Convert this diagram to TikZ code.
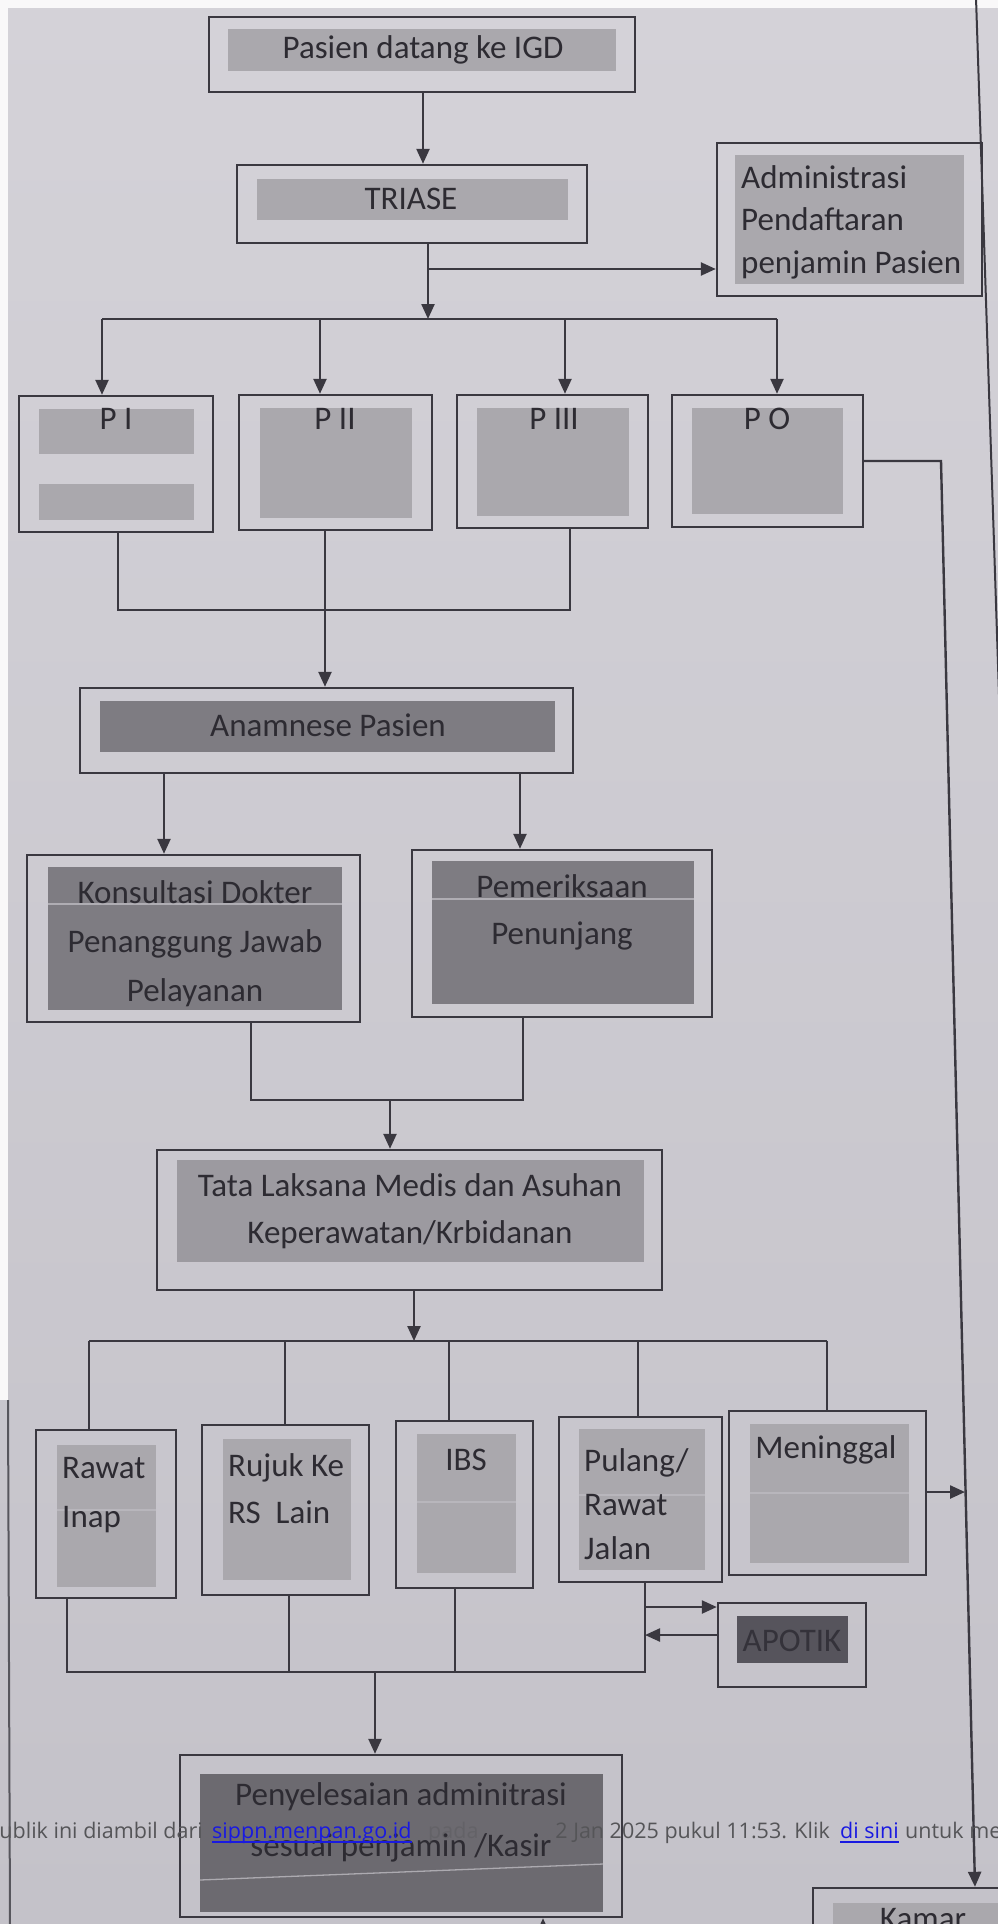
\documentclass[tikz,border=0pt]{standalone}
\usepackage{fontspec}
\setmainfont{Carlito}
\newfontfamily\osans{Open Sans}
\usetikzlibrary{arrows.meta,calc}
\definecolor{bgA}{RGB}{212,210,216}
\definecolor{bgB}{RGB}{196,194,201}
\definecolor{lc}{RGB}{58,56,64}
\definecolor{tc}{RGB}{45,43,50}
\definecolor{gl}{RGB}{170,168,173}
\definecolor{gm}{RGB}{156,154,160}
\definecolor{gd}{RGB}{126,124,130}
\definecolor{gx}{RGB}{108,106,112}
\definecolor{ga}{RGB}{86,84,92}
\definecolor{lnk}{RGB}{25,25,225}
\definecolor{ovl}{RGB}{85,85,88}
\definecolor{strp}{RGB}{188,186,192}
\begin{document}
\begin{tikzpicture}[x=1pt,y=-1pt,
  obox/.style={draw=lc,line width=2.4pt,inner sep=0pt},
  ibox/.style={inner sep=0pt,draw=none},
  txt/.style={text=tc,font=\fontsize{33}{46}\selectfont,inner sep=0pt,align=center},
  link/.style={draw=lc,line width=2.4pt},
  arr/.style={draw=lc,line width=2.4pt,-{Triangle[length=15pt,width=13pt]}},
  ov/.style={font=\osans\fontsize{21.5}{26}\selectfont,inner sep=0pt,text=ovl},
  stripe/.style={draw=strp,line width=1.3pt,opacity=0.8}
]
\useasboundingbox (0,0) rectangle (998,1924);
\clip (0,0) rectangle (998,1924);
\shade[top color=bgA,bottom color=bgB] (0,0) rectangle (998,1924);
\fill[white!85!bgA] (0,0) rectangle (998,8);
\fill[white!85!bgA] (0,0) rectangle (8,1400);
\draw[lc!85,line width=2pt] (8,1400) -- (10,1924);

% inner fills
\node[ibox,fill=gl,minimum width=388,minimum height=42] (pasI) at (422,50) {};
\node[ibox,fill=gl,minimum width=311,minimum height=41] (triI) at (412.5,199.5) {};
\node[ibox,fill=gl,minimum width=229,minimum height=129] (admI) at (849.5,219.5) {};
\node[ibox,fill=gl,minimum width=155,minimum height=45] (p1I) at (116.5,431.5) {};
\node[ibox,fill=gl,minimum width=155,minimum height=36] (p1J) at (116.5,502) {};
\node[ibox,fill=gl,minimum width=152,minimum height=110] (p2I) at (336,463) {};
\node[ibox,fill=gl,minimum width=152,minimum height=108] (p3I) at (553,462) {};
\node[ibox,fill=gl,minimum width=151,minimum height=106] (p4I) at (767.5,461) {};
\node[ibox,fill=gd,minimum width=455,minimum height=51] (anaI) at (327.5,726.5) {};
\node[ibox,fill=gd,minimum width=294,minimum height=143] (konI) at (195,938.5) {};
\node[ibox,fill=gd,minimum width=262,minimum height=143] (pemI) at (563,932.5) {};
\node[ibox,fill=gm,minimum width=467,minimum height=102] (tatI) at (410.5,1211) {};
\node[ibox,fill=gl,minimum width=99,minimum height=142] (rawI) at (106.5,1516) {};
\node[ibox,fill=gl,minimum width=128,minimum height=141] (rujI) at (287,1509.5) {};
\node[ibox,fill=gl,minimum width=99,minimum height=139] (ibsI) at (466.5,1503.5) {};
\node[ibox,fill=gl,minimum width=126,minimum height=141] (pulI) at (642,1499.5) {};
\node[ibox,fill=gl,minimum width=159,minimum height=139] (menI) at (829.5,1493.5) {};
\node[ibox,fill=ga,minimum width=111,minimum height=47] (apoI) at (792.5,1639.5) {};
\node[ibox,fill=gx,minimum width=403,minimum height=138] (penI) at (401.5,1843) {};
\node[ibox,fill=gl,minimum width=177,minimum height=97] (kamI) at (921.5,1951.5) {};

% light stripes
\draw[stripe] (konI.west |- 0,904) -- (konI.east |- 0,904);
\draw[stripe] (pemI.west |- 0,899) -- (pemI.east |- 0,899);
\draw[stripe] (rawI.west |- 0,1510) -- (rawI.east |- 0,1510);
\draw[stripe] (ibsI.west |- 0,1502) -- (ibsI.east |- 0,1502);
\draw[stripe] (pulI.west |- 0,1495) -- (pulI.east |- 0,1495);
\draw[stripe] (menI.west |- 0,1493) -- (menI.east |- 0,1493);
\draw[stripe] (penI.west |- 0,1880) -- (penI.east |- 0,1864);

% outer boxes
\node[obox,minimum width=426,minimum height=75] (pas) at (422,54.5) {};
\node[obox,minimum width=350,minimum height=78] (tri) at (412,204) {};
\node[obox,minimum width=265,minimum height=153] (adm) at (849.5,219.5) {};
\node[obox,minimum width=194,minimum height=136] (p1) at (116,464) {};
\node[obox,minimum width=193,minimum height=135] (p2) at (335.5,462.5) {};
\node[obox,minimum width=191,minimum height=133] (p3) at (552.5,461.5) {};
\node[obox,minimum width=191,minimum height=132] (p4) at (767.5,461) {};
\node[obox,minimum width=493,minimum height=85] (ana) at (326.5,730.5) {};
\node[obox,minimum width=333,minimum height=167] (kon) at (193.5,938.5) {};
\node[obox,minimum width=300,minimum height=167] (pem) at (562,933.5) {};
\node[obox,minimum width=505,minimum height=140] (tat) at (409.5,1220) {};
\node[obox,minimum width=140,minimum height=168] (raw) at (106,1514) {};
\node[obox,minimum width=167,minimum height=170] (ruj) at (285.5,1510) {};
\node[obox,minimum width=137,minimum height=167] (ibs) at (464.5,1504.5) {};
\node[obox,minimum width=163,minimum height=165] (pul) at (640.5,1499.5) {};
\node[obox,minimum width=197,minimum height=164] (men) at (827.5,1493) {};
\node[obox,minimum width=148,minimum height=84] (apo) at (792,1645) {};
\node[obox,minimum width=442,minimum height=162] (pen) at (401,1836) {};
\node[obox,minimum width=207,minimum height=112] (kam) at (916.5,1944) {};

% texts
\node[txt] (tPas) at (423,50) {Pasien datang ke IGD};
\node[txt] (tTri) at (411,199) {TRIASE};
\node[txt,align=left,anchor=west,font=\fontsize{33}{42.5}\selectfont] (tAdm) at (741,222) {Administrasi\\Pendaftaran\\penjamin Pasien};
\node[txt] (tP1) at (116,419) {P I};
\node[txt] (tP2) at (335,419) {P II};
\node[txt] (tP3) at (554,419) {P III};
\node[txt] (tP4) at (767,419) {P O};
\node[txt] (tAna) at (328,725) {Anamnese Pasien};
\node[txt,font=\fontsize{33}{49}\selectfont] (tKon) at (195,944) {Konsultasi Dokter\\Penanggung Jawab\\Pelayanan};
\node[txt,font=\fontsize{33}{47}\selectfont] (tPem) at (562,912) {Pemeriksaan\\Penunjang};
\node[txt,font=\fontsize{33}{47}\selectfont] (tTat) at (410,1211) {Tata Laksana Medis dan Asuhan\\Keperawatan/Krbidanan};
\node[txt,align=left,anchor=west,font=\fontsize{33}{49}\selectfont] (tRaw) at (62,1495) {Rawat\\Inap};
\node[txt,align=left,anchor=west,font=\fontsize{33}{47}\selectfont] (tRuj) at (228,1489) {Rujuk Ke\\RS\ \ Lain};
\node[txt] (tIbs) at (466,1460) {IBS};
\node[txt,align=left,anchor=west,font=\fontsize{33}{44}\selectfont] (tPul) at (584,1504) {Pulang/\\Rawat\\Jalan};
\node[txt] (tMen) at (826,1450) {Meninggal};
\node[txt,text=lc!90!black] (tApo) at (792,1641) {APOTIK};
\node[txt,font=\fontsize{33}{51}\selectfont] (tPen) at (401,1822) {Penyelesaian adminitrasi\\sesuai penjamin /Kasir};
\node[txt] (tKam) at (923,1919) {Kamar};

% coordinates
\coordinate (t1) at (428,319);
\coordinate (t2) at (428,269);
\coordinate (h1) at (102,319);
\coordinate (h2) at (320,319);
\coordinate (h3) at (565,319);
\coordinate (h4) at (777,319);
\coordinate (m1) at (118,610);
\coordinate (m3) at (570,610);
\coordinate (m2) at (325,0);
\coordinate (xp) at (423,0);
\coordinate (xa) at (164,0);
\coordinate (xb) at (520,0);
\coordinate (k1) at (251,1100);
\coordinate (k2) at (523,1100);
\coordinate (k3) at (390,1100);
\coordinate (q0) at (414,1341);
\coordinate (q1) at (89,1341);
\coordinate (q2) at (285,1341);
\coordinate (q3) at (449,1341);
\coordinate (q4) at (638,1341);
\coordinate (q5) at (827,1341);
\coordinate (r0) at (375,1672);
\coordinate (r1) at (67,1672);
\coordinate (r2) at (289,1672);
\coordinate (r3) at (455,1672);
\coordinate (r4) at (645,1672);
\coordinate (s1) at (645,1607);
\coordinate (s2) at (645,1635);
\coordinate (u0) at (543,1940);
\coordinate (v1) at (941,461);
\coordinate (v2) at (975,0);
\coordinate (w1) at (965,1492);
\coordinate (e1) at (976,-2);
\coordinate (e2) at (1000,725);

% connectors
\draw[arr] (pas.south -| xp) -- (tri.north -| xp);
\draw[arr] (tri.south -| t1) -- (t1);
\draw[arr] (t2) -- (t2 -| adm.west);
\draw[link] (h1) -- (h4);
\draw[arr] (h1) -- (h1 |- p1.north);
\draw[arr] (h2) -- (h2 |- p2.north);
\draw[arr] (h3) -- (h3 |- p3.north);
\draw[arr] (h4) -- (h4 |- p4.north);
\draw[link] (m1 |- p1.south) -- (m1) -- (m3) -- (m3 |- p3.south);
\draw[arr] (p2.south -| m2) -- (ana.north -| m2);
\draw[arr] (ana.south -| xa) -- (kon.north -| xa);
\draw[arr] (ana.south -| xb) -- (pem.north -| xb);
\draw[link] (kon.south -| k1) -- (k1) -- (k2) -- (pem.south -| k2);
\draw[arr] (k3) -- (tat.north -| k3);
\draw[arr] (tat.south -| q0) -- (q0);
\draw[link] (q1) -- (q5);
\draw[link] (q1) -- (q1 |- raw.north);
\draw[link] (q2) -- (q2 |- ruj.north);
\draw[link] (q3) -- (q3 |- ibs.north);
\draw[link] (q4) -- (q4 |- pul.north);
\draw[link] (q5) -- (q5 |- men.north);
\draw[link] (raw.south -| r1) -- (r1) -- (r4) -- (pul.south -| r4);
\draw[link] (ruj.south -| r2) -- (r2);
\draw[link] (ibs.south -| r3) -- (r3);
\draw[arr] (s1) -- (s1 -| apo.west);
\draw[arr] (s2 -| apo.west) -- (s2);
\draw[arr] (r0) -- (pen.north -| r0);
\draw[arr] (u0) -- (pen.south -| u0);
\draw[arr] (p4.east |- v1) -- (v1) -- (kam.north -| v2);
\draw[arr] (men.east |- w1) -- (w1);
\draw[link,line width=2pt] (e1) -- (e2);

% web overlay text
\node[ov,anchor=base east] (ov1) at (203,1838) {ublik ini diambil dari};
\node[ov,anchor=base west,text=lnk] (ov2) at (212,1838) {sippn.menpan.go.id};
\draw[lnk,line width=1.6pt] ($(ov2.base west)+(0,4)$) -- ($(ov2.base east)+(0,4)$);
\node[ov,anchor=base west,opacity=0.35] (ov3) at (428,1838) {pada};
\node[ov,anchor=base east] (ov4) at (830,1838) {2 Jan 2025 pukul 11:53. Klik};
\node[ov,anchor=base west,text=lnk] (ov5) at (840,1838) {di sini};
\draw[lnk,line width=1.6pt] ($(ov5.base west)+(0,4)$) -- ($(ov5.base east)+(0,4)$);
\node[ov,anchor=base west] (ov6) at (905,1838) {untuk me};
\end{tikzpicture}
\end{document}
